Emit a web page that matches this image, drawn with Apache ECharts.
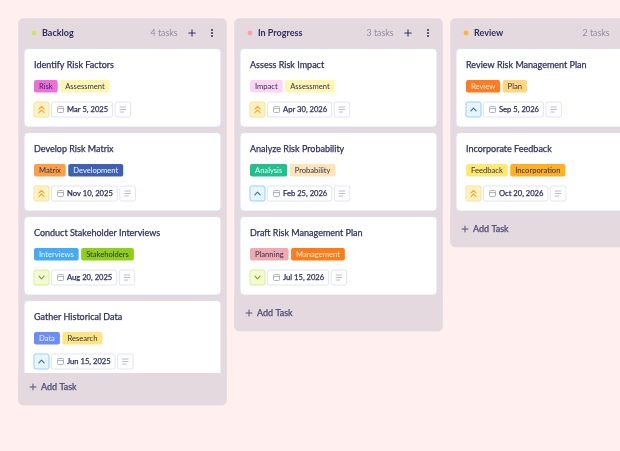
<!DOCTYPE html>
<html>
<head>
<meta charset="utf-8">
<title>Risk board</title>
<style>
  html, body { margin: 0; padding: 0; background: #fff0ef; }
  #board { width: 620px; height: 451px; }
</style>
<script src="https://cdn.jsdelivr.net/npm/echarts@6/dist/echarts.min.js"></script>
</head>
<body>
<div id="board"></div>
<script>
// Board content
const columnNames = ['Backlog', 'In Progress', 'Review'];
const columnCounts = ['4 tasks', '3 tasks', '2 tasks'];
const cardColumns = [0, 0, 0, 0, 1, 1, 1, 2, 2];
const cardSlots = [0, 1, 2, 3, 0, 1, 2, 0, 1];
const cardTitles = [
  'Identify Risk Factors', 'Develop Risk Matrix', 'Conduct Stakeholder Interviews', 'Gather Historical Data',
  'Assess Risk Impact', 'Analyze Risk Probability', 'Draft Risk Management Plan',
  'Review Risk Management Plan', 'Incorporate Feedback'
];
const cardTags = [
  ['Risk', 'Assessment'], ['Matrix', 'Development'], ['Interviews', 'Stakeholders'], ['Data', 'Research'],
  ['Impact', 'Assessment'], ['Analysis', 'Probability'], ['Planning', 'Management'],
  ['Review', 'Plan'], ['Feedback', 'Incorporation']
];
const cardDates = [
  'Mar 5, 2025', 'Nov 10, 2025', 'Aug 20, 2025', 'Jun 15, 2025',
  'Apr 30, 2026', 'Feb 25, 2026', 'Jul 15, 2026',
  'Sep 5, 2026', 'Oct 20, 2026'
];
const cardPriorities = ['high', 'high', 'low', 'medium', 'high', 'medium', 'low', 'medium', 'high'];

// Styles
const NAVY = '#2b2f5f';
const MUTED = '#8f8ca3';
const COLUMN_BG = '#e4d9df';
const LINE = '#e3e4f5';
const FONT = 'Lato, sans-serif';
const dotColors = ['#c5e86c', '#f5a3a3', '#ffb52e'];
const tagStyles = {
  Risk: ['#ee6fd6', NAVY], Assessment: ['#fff6b0', NAVY], Matrix: ['#ff9f45', NAVY],
  Development: ['#3e60b4', '#f4f6ff'], Interviews: ['#47aaf5', '#e8f5ff'], Stakeholders: ['#8fd016', NAVY],
  Data: ['#6b8dfb', '#eef2ff'], Research: ['#ffe57e', NAVY], Impact: ['#fbd6f4', NAVY],
  Analysis: ['#20c08f', '#e6fff6'], Probability: ['#ffe4b5', NAVY], Planning: ['#f0a9ad', NAVY],
  Management: ['#ff7b16', '#fff3e6'], Review: ['#ff7a20', '#ffeadb'], Plan: ['#ffd67c', NAVY],
  Feedback: ['#ffe96c', NAVY], Incorporation: ['#ffb020', NAVY]
};
const priorityStyles = {
  high: { bg: '#fff3c6', border: '#ffe08a', icon: '#f7a823' },
  medium: { bg: '#e7f5ff', border: '#8fd3ff', icon: '#2f6ea8' },
  low: { bg: '#f4fbd2', border: '#d6ef90', icon: '#6fa81a' }
};

// Layout, in pixels
const COLUMN_PITCH = 216;
const COLUMN_WIDTH = 208;
const COLUMN_LEFT = 18.5;
const CARD_PITCH = 84;
const CARD_TOP = 48.5;
const LIST_BOTTOM = 373;
const COLUMN_MAX_BOTTOM = 405;

const measureCtx = document.createElement('canvas').getContext('2d');
function textWidth(text, font) {
  measureCtx.font = font;
  return measureCtx.measureText(text).width;
}

function rect(x, y, width, height, r, fill, stroke) {
  return {
    type: 'rect',
    shape: { x, y, width, height, r },
    style: { fill, stroke: stroke || null, lineWidth: stroke ? 1 : 0 }
  };
}

// heavy: thin outline in the text colour, Lato has no medium weight here
function label(text, x, y, font, fill, align, heavy) {
  const style = { text, x, y, font, fill, align: align || 'left', verticalAlign: 'middle' };
  if (heavy) {
    style.stroke = fill;
    style.lineWidth = 0.25;
  }
  return { type: 'text', style };
}

function stroke(points, color, width) {
  return {
    type: 'polyline',
    shape: { points },
    style: { stroke: color, lineWidth: width || 1, fill: null, lineCap: 'round', lineJoin: 'round' }
  };
}

function plusIcon(cx, cy, size, color) {
  return [
    stroke([[cx - size, cy], [cx + size, cy]], color),
    stroke([[cx, cy - size], [cx, cy + size]], color)
  ];
}

// dir 1 points up, -1 points down
function chevron(cx, cy, dir, color) {
  return stroke([[cx - 2.6, cy + 1.3 * dir], [cx, cy - 1.3 * dir], [cx + 2.6, cy + 1.3 * dir]], color, 1.1);
}

function columnBottoms(col, api) {
  const count = cardColumns.filter(c => c === col).length;
  const footerTop = Math.min(api.coord([col, count])[1] - 5.5, LIST_BOTTOM);
  const bottom = Math.min(footerTop + 36, COLUMN_MAX_BOTTOM);
  return { footerTop, bottom };
}

function renderColumn(params, api) {
  const col = params.dataIndex;
  const [x, firstCard] = api.coord([col, 0]);
  const top = firstCard - 30;
  const { bottom } = columnBottoms(col, api);
  const midY = top + 14.5;
  const children = [
    rect(x, top, COLUMN_WIDTH, bottom - top, 5, COLUMN_BG, '#e9e0e5'),
    { type: 'circle', shape: { cx: x + 15.5, cy: midY, r: 2.4 }, style: { fill: dotColors[col] } },
    label(columnNames[col], x + 23.5, midY + 0.5, '700 9px ' + FONT, NAVY),
    label(columnCounts[col], x + 159, midY + 0.5, '8.8px ' + FONT, MUTED, 'right')
  ];
  if (col < 2) {
    children.push(...plusIcon(x + 173.5, midY, 3.2, NAVY));
    [-3, 0, 3].forEach(d => {
      children.push({ type: 'circle', shape: { cx: x + 193.5, cy: midY + d, r: 1 }, style: { fill: NAVY } });
    });
  }
  return { type: 'group', children };
}

function renderCard(params, api) {
  const i = params.dataIndex;
  const [colX, y] = api.coord([api.value(0), api.value(1)]);
  const x = colX + 5.5;
  const left = x + 10;
  const children = [
    rect(x, y, 197, 78.5, 4, '#ffffff', '#dcdcf1'),
    label(cardTitles[i], left, y + 16.5, '9px ' + FONT, NAVY, 'left', true)
  ];

  // Tag chips
  let tagX = left;
  cardTags[i].forEach(tag => {
    const font = '7.6px ' + FONT;
    const w = textWidth(tag, font) + 10;
    const [bg, fg] = tagStyles[tag];
    children.push(rect(tagX, y + 31.5, w, 12.5, 2, bg));
    children.push(label(tag, tagX + w / 2, y + 38, font, fg, 'center'));
    tagX += w + 2.5;
  });

  // Priority box
  const rowY = y + 53.5;
  const midY = rowY + 7.5;
  const pri = priorityStyles[cardPriorities[i]];
  children.push(rect(left, rowY, 15, 15, 2, pri.bg, pri.border));
  if (cardPriorities[i] === 'high') {
    children.push(chevron(left + 7.5, midY - 1.8, 1, pri.icon), chevron(left + 7.5, midY + 1.8, 1, pri.icon));
  } else {
    children.push(chevron(left + 7.5, midY, cardPriorities[i] === 'low' ? -1 : 1, pri.icon));
  }

  // Date box with calendar icon
  const dateFont = '7.6px ' + FONT;
  const dateX = left + 17.5;
  const dateW = textWidth(cardDates[i], dateFont) + 20;
  children.push(rect(dateX, rowY, dateW, 15, 2, '#ffffff', LINE));
  children.push(rect(dateX + 6, midY - 3, 6, 6, 1, null, '#aeb0c9'));
  children.push(stroke([[dateX + 6, midY - 1], [dateX + 12, midY - 1]], '#aeb0c9'));
  children.push(label(cardDates[i], dateX + 15.5, midY + 0.5, dateFont, NAVY, 'left', true));

  // Notes box with three lines
  const noteX = dateX + dateW + 2.5;
  children.push(rect(noteX, rowY, 15.5, 15, 2, '#ffffff', LINE));
  [[-2.5, 5.5], [0, 5.5], [2.5, 3.5]].forEach(([dy, len]) => {
    children.push(stroke([[noteX + 5, midY + dy], [noteX + 5 + len, midY + dy]], '#b9bacf'));
  });

  return { type: 'group', children };
}

function renderFooter(params, api) {
  const col = params.dataIndex;
  const x = api.coord([col, 0])[0];
  const { footerTop, bottom } = columnBottoms(col, api);
  const midY = bottom - 18;
  return {
    type: 'group',
    children: [
      rect(x, footerTop, COLUMN_WIDTH, bottom - footerTop, [0, 0, 5, 5], COLUMN_BG),
      ...plusIcon(x + 14.5, midY, 3, '#55567d'),
      label('Add Task', x + 22.5, midY + 0.5, '9px ' + FONT, '#484a75', 'left', true)
    ]
  };
}

const chart = echarts.init(document.getElementById('board'), null, { renderer: 'canvas' });
const columnData = columnNames.map((name, i) => [i, 0]);
const cardData = cardTitles.map((title, i) => [cardColumns[i], cardSlots[i]]);

chart.setOption({
  animation: false,
  backgroundColor: '#fff0ef',
  grid: { left: COLUMN_LEFT, right: 0, top: 0, bottom: 0 },
  // One x unit is a column, one y unit is a card row
  xAxis: { type: 'value', show: false, min: 0, max: (620 - COLUMN_LEFT) / COLUMN_PITCH },
  yAxis: {
    type: 'value', show: false, inverse: true,
    min: -CARD_TOP / CARD_PITCH, max: (451 - CARD_TOP) / CARD_PITCH
  },
  tooltip: { show: false },
  series: [
    { type: 'custom', name: 'columns', clip: false, silent: true, data: columnData, renderItem: renderColumn },
    { type: 'custom', name: 'cards', clip: false, silent: true, data: cardData, renderItem: renderCard },
    { type: 'custom', name: 'footers', clip: false, silent: true, data: columnData, renderItem: renderFooter }
  ]
});
</script>
</body>
</html>
